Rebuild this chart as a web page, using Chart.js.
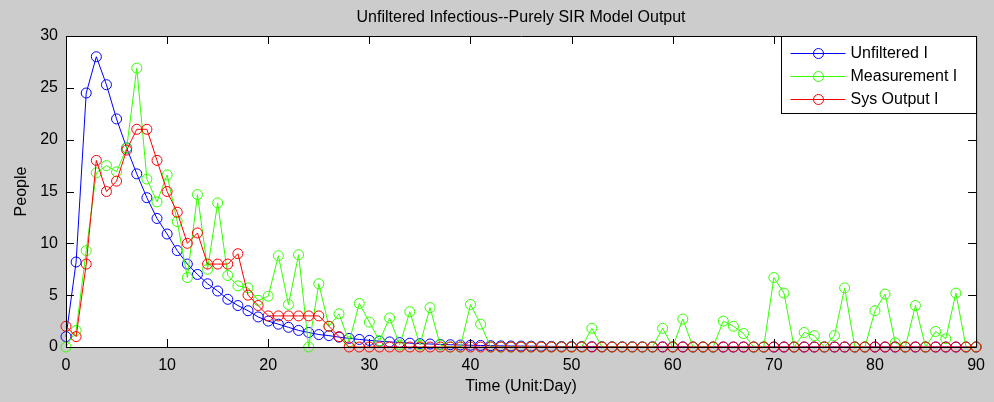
<!DOCTYPE html>
<html>
<head>
<meta charset="utf-8">
<script src="https://cdn.jsdelivr.net/npm/chart.js@4.4.0/dist/chart.umd.min.js"></script>
<style>
  body { margin: 0; background: #cccccc; }
  canvas { display: block; }
</style>
</head>
<body>
<canvas id="sir" width="994" height="402"></canvas>
<script>
const days = [
  0, 1, 2, 3, 4, 5, 6, 7, 8, 9,
  10, 11, 12, 13, 14, 15, 16, 17, 18, 19,
  20, 21, 22, 23, 24, 25, 26, 27, 28, 29,
  30, 31, 32, 33, 34, 35, 36, 37, 38, 39,
  40, 41, 42, 43, 44, 45, 46, 47, 48, 49,
  50, 51, 52, 53, 54, 55, 56, 57, 58, 59,
  60, 61, 62, 63, 64, 65, 66, 67, 68, 69,
  70, 71, 72, 73, 74, 75, 76, 77, 78, 79,
  80, 81, 82, 83, 84, 85, 86, 87, 88, 89,
  90
];

const unfilteredI = [
  1.0, 8.2, 24.5, 28.0, 25.3, 22.0, 19.2, 16.7, 14.4, 12.4,
  10.9, 9.3, 8.0, 7.0, 6.1, 5.4, 4.6, 4.0, 3.5, 2.9,
  2.5, 2.2, 1.9, 1.6, 1.4, 1.2, 1.1, 0.95, 0.83, 0.73,
  0.64, 0.56, 0.49, 0.43, 0.37, 0.33, 0.29, 0.25, 0.22, 0.19,
  0.17, 0.15, 0.13, 0.11, 0.1, 0.09, 0.08, 0.07, 0.06, 0.05,
  0.04, 0.04, 0.03, 0.03, 0.02, 0.02, 0.02, 0.01, 0.01, 0.01,
  0.01, 0.01, 0, 0, 0, 0, 0, 0, 0, 0,
  0, 0, 0, 0, 0, 0, 0, 0, 0, 0,
  0, 0, 0, 0, 0, 0, 0, 0, 0, 0,
  0
];

const measurementI = [
  0, 1.6, 9.3, 16.8, 17.5, 16.9, 19.2, 26.9, 16.2, 14.0,
  16.6, 12.1, 6.7, 14.7, 7.5, 13.9, 6.9, 5.9, 5.7, 4.5,
  4.9, 8.8, 4.1, 8.9, 0, 6.1, 2.0, 3.2, 0.5, 4.2,
  2.4, 0.6, 2.8, 0.2, 3.4, 0.2, 3.8, 0.2, 0, 0,
  4.1, 2.2, 0, 0, 0, 0, 0, 0, 0, 0,
  0, 0, 1.8, 0, 0, 0, 0, 0, 0, 1.8,
  0, 2.7, 0, 0, 0, 2.5, 2.0, 1.3, 0, 0,
  6.7, 5.2, 0, 1.4, 1.1, 0, 1.1, 5.7, 0, 0,
  3.5, 5.1, 0.4, 0, 4.0, 0, 1.5, 0.8, 5.2, 0,
  0
];

const sysOutputI = [
  2, 1, 8, 18, 15, 16, 19, 21, 21, 18,
  15, 13, 10, 11, 8, 8, 8, 9, 5, 4,
  3, 3, 3, 3, 3, 3, 2, 1, 0, 0,
  0, 0, 0, 0, 0, 0, 0, 0, 0, 0,
  0, 0, 0, 0, 0, 0, 0, 0, 0, 0,
  0, 0, 0, 0, 0, 0, 0, 0, 0, 0,
  0, 0, 0, 0, 0, 0, 0, 0, 0, 0,
  0, 0, 0, 0, 0, 0, 0, 0, 0, 0,
  0, 0, 0, 0, 0, 0, 0, 0, 0, 0,
  0
];

const xTicks = [0, 10, 20, 30, 40, 50, 60, 70, 80, 90];
const yTicks = [0, 5, 10, 15, 20, 25, 30];

const FONT = 'Liberation Sans, Arial, sans-serif';
Chart.defaults.font.family = FONT;
Chart.defaults.font.size = 16;
Chart.defaults.color = '#000';

// white axes, box with inward ticks, and the legend box in the top-right corner
const axesBox = {
  id: 'axesBox',
  beforeDraw(chart) {
    const { ctx, chartArea: a } = chart;
    ctx.save();
    ctx.fillStyle = '#ffffff';
    ctx.fillRect(a.left, a.top, a.right - a.left, a.bottom - a.top);
    ctx.restore();
  },
  afterDatasetsDraw(chart) {
    const { ctx, chartArea: a, scales } = chart;
    const tick = 8;
    ctx.save();
    ctx.strokeStyle = '#000';
    ctx.lineWidth = 1;
    ctx.beginPath();
    xTicks.forEach(v => {
      const px = Math.round(scales.x.getPixelForValue(v)) + 0.5;
      ctx.moveTo(px, a.bottom); ctx.lineTo(px, a.bottom - tick);
      ctx.moveTo(px, a.top); ctx.lineTo(px, a.top + tick);
    });
    yTicks.forEach(v => {
      const py = Math.round(scales.y.getPixelForValue(v)) + 0.5;
      ctx.moveTo(a.left, py); ctx.lineTo(a.left + tick, py);
      ctx.moveTo(a.right, py); ctx.lineTo(a.right - tick, py);
    });
    ctx.rect(a.left + 0.5, a.top + 0.5, a.right - a.left, a.bottom - a.top);
    ctx.stroke();

    // legend
    const w = 195, h = 77;
    const lx = Math.round(a.right - w) + 0.5, ly = Math.round(a.top) + 0.5;
    ctx.fillStyle = '#ffffff';
    ctx.fillRect(lx, ly, w, h);
    ctx.strokeRect(lx, ly, w, h);
    ctx.font = '16px ' + FONT;
    ctx.textBaseline = 'middle';
    ctx.textAlign = 'left';
    chart.data.datasets.forEach((ds, i) => {
      const y = ly + 17 + i * 23;
      ctx.strokeStyle = ds.borderColor;
      ctx.beginPath();
      ctx.moveTo(lx + 9, y); ctx.lineTo(lx + 64, y);
      ctx.stroke();
      ctx.beginPath();
      ctx.arc(lx + 37, y, 5, 0, Math.PI * 2);
      ctx.stroke();
      ctx.fillStyle = '#000';
      ctx.fillText(ds.label, lx + 69, y);
    });
    ctx.restore();
  }
};

function series(label, values, color, order) {
  return {
    label,
    data: values,
    borderColor: color,
    borderWidth: 1,
    pointStyle: 'circle',
    pointRadius: 5,
    pointBorderWidth: 1,
    pointBorderColor: color,
    pointBackgroundColor: 'rgba(0,0,0,0)',
    tension: 0,
    clip: false,
    order
  };
}

new Chart(document.getElementById('sir'), {
  type: 'line',
  data: {
    labels: days,
    datasets: [
      series('Unfiltered I', unfilteredI, '#0000ff', 3),
      series('Measurement I', measurementI, '#33ff00', 2),
      series('Sys Output I', sysOutputI, '#ff0000', 1)
    ]
  },
  options: {
    responsive: false,
    animation: false,
    events: [],
    layout: { padding: { left: 0, right: 10, top: 0, bottom: 0 } },
    plugins: {
      legend: { display: false },
      tooltip: { enabled: false },
      title: {
        display: true,
        fullSize: false,
        text: 'Unfiltered Infectious--Purely SIR Model Output',
        color: '#000',
        font: { size: 16, weight: 'normal', lineHeight: 1.25 },
        padding: { top: 8, bottom: 8 }
      }
    },
    scales: {
      x: {
        type: 'linear',
        min: 0,
        max: 90,
        afterBuildTicks: s => { s.ticks = xTicks.map(v => ({ value: v })); },
        afterFit: s => { s.height = 55; },
        grid: { display: false, drawTicks: false },
        border: { display: false },
        ticks: { padding: 9, maxRotation: 0 },
        title: { display: true, text: 'Time (Unit:Day)', padding: { top: 0, bottom: 6 } }
      },
      y: {
        min: 0,
        max: 30,
        afterBuildTicks: s => { s.ticks = yTicks.map(v => ({ value: v })); },
        afterFit: s => { s.width = 66; },
        grid: { display: false, drawTicks: false },
        border: { display: false },
        ticks: { padding: 8 },
        title: { display: true, text: 'People', padding: { top: 12, bottom: 0 } }
      }
    }
  },
  plugins: [axesBox]
});
</script>
</body>
</html>
